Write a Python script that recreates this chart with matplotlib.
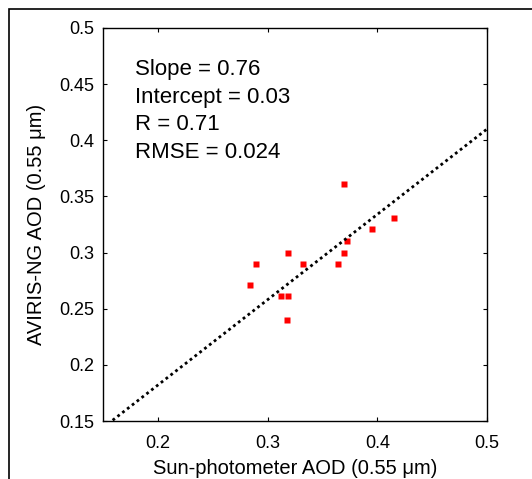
import numpy as np
import matplotlib
matplotlib.use('Agg')
import matplotlib.pyplot as plt
from matplotlib.patches import Rectangle

# sun-photometer vs AVIRIS-NG AOD at 0.55 um
sun_aod = [0.284, 0.289, 0.312, 0.319, 0.318, 0.319, 0.332, 0.364, 0.370, 0.372, 0.370, 0.395, 0.415]
aviris_aod = [0.271, 0.290, 0.261, 0.261, 0.240, 0.300, 0.290, 0.290, 0.300, 0.310, 0.361, 0.321, 0.331]

slope = 0.76
intercept = 0.03
r_val = 0.71
rmse = 0.024

xticks = [0.2, 0.3, 0.4, 0.5]
yticks = [0.15, 0.2, 0.25, 0.3, 0.35, 0.4, 0.45, 0.5]

plt.rcParams['font.family'] = ['Liberation Sans', 'DejaVu Sans']

fig = plt.figure(figsize=(5.32, 4.79), dpi=100)
ax = fig.add_axes([103/532, 58/479, 384/532, 393/479])

ax.plot(sun_aod, aviris_aod, 's', color='red', ms=5, mec='none')

xfit = np.array([0.15, 0.5])
ax.plot(xfit, slope * xfit + intercept, color='black', lw=2, dashes=(1, 1.2))

ax.set_xlim(0.15, 0.5)
ax.set_ylim(0.15, 0.5)
ax.set_xticks(xticks)
ax.set_xticklabels([f'{t:g}' for t in xticks])
ax.set_yticks(yticks)
ax.set_yticklabels([f'{t:g}' for t in yticks])
ax.tick_params(direction='in', length=3, width=0.8, top=True, right=True,
               labelsize=13)
ax.tick_params(axis='x', pad=10)
ax.tick_params(axis='y', pad=6)
for s in ax.spines.values():
    s.set_linewidth(1)

ax.set_xlabel('Sun-photometer AOD (0.55 \u03bcm)', fontsize=14.5, labelpad=5)
ax.set_ylabel('AVIRIS-NG AOD (0.55 \u03bcm)', fontsize=14.5, labelpad=10)

txt = (f'Slope = {slope:.2f}\nIntercept = {intercept:.2f}\n'
       f'R = {r_val:.2f}\nRMSE = {rmse:.3f}')
ax.text(0.083, 0.92, txt, transform=ax.transAxes, va='top', ha='left',
        fontsize=16, linespacing=1.4)

# outer figure frame
fig.add_artist(Rectangle((9/532, -0.1), 1.2, 1.1 - 9/479, transform=fig.transFigure,
                         fill=False, lw=1.2, ec='black', clip_on=False))

fig.savefig('out.png', dpi=100)
